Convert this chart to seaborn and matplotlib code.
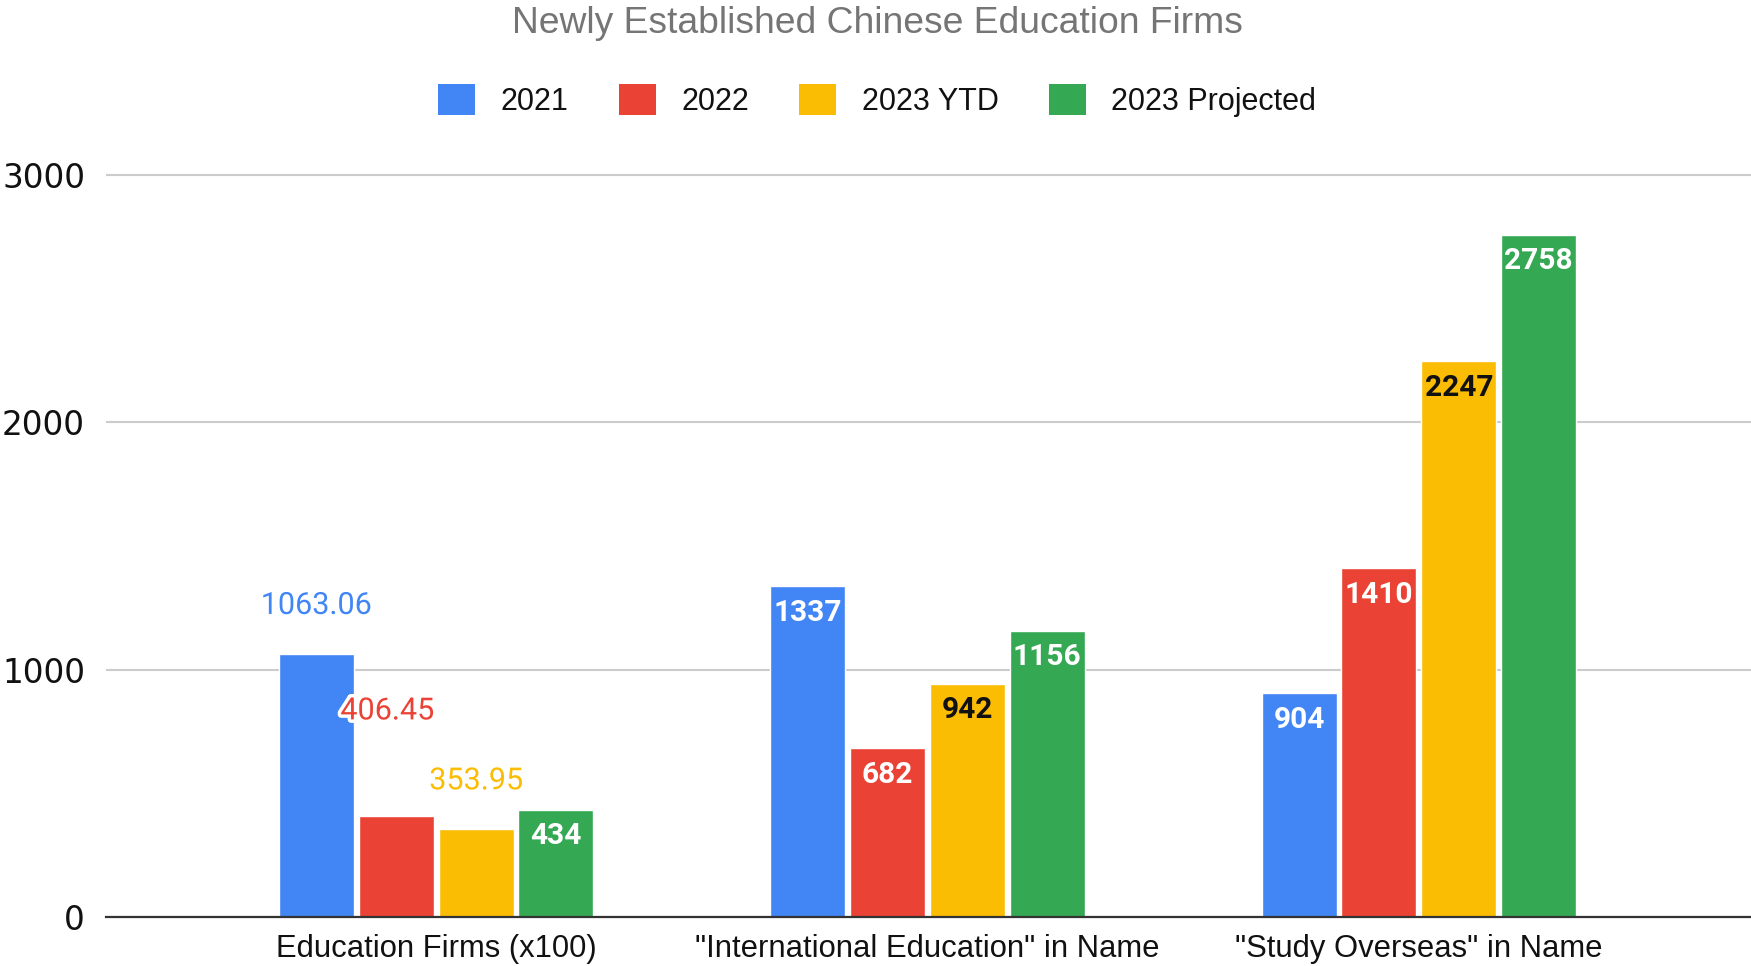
import matplotlib
matplotlib.use("Agg")
import matplotlib.pyplot as plt
import matplotlib.patheffects as pe
from matplotlib.patches import Patch, FancyBboxPatch
import seaborn as sns
import pandas as pd

categories = ["Education Firms (x100)", "\"International Education\" in Name", "\"Study Overseas\" in Name"]
series_names = ["2021", "2022", "2023 YTD", "2023 Projected"]
v2021 = [1063.06, 1337, 904]
v2022 = [406.45, 682, 1410]
v2023_ytd = [353.95, 942, 2247]
v2023_proj = [434, 1156, 2758]
label_text = [["1063.06", "1337", "904"], ["406.45", "682", "1410"],
              ["353.95", "942", "2247"], ["434", "1156", "2758"]]
colors = ["#4285F4", "#EA4335", "#FBBC04", "#34A853"]
y_ticks = [0, 1000, 2000, 3000]
title = "Newly Established Chinese Education Firms"

rows = []
for name, vals in zip(series_names, [v2021, v2022, v2023_ytd, v2023_proj]):
    for c, v in zip(categories, vals):
        rows.append({"category": c, "series": name, "value": v})
df = pd.DataFrame(rows)

sns.set_theme(style="white")
plt.rcParams["font.family"] = ["Liberation Sans", "DejaVu Sans"]

fig = plt.figure(figsize=(17.51, 9.66), dpi=100)
ax = fig.add_axes([0.0605, 0.0507, 0.9395, 0.781])

sns.barplot(data=df, x="category", y="value", hue="series", order=categories,
            hue_order=series_names, palette=colors, width=0.65, gap=0.06,
            saturation=1, errorbar=None, legend=False, ax=ax, zorder=3)

ax.set_ylim(0, 3050)
ax.set_xlim(-0.672, 2.676)
ax.set_yticks(y_ticks)
ax.set_yticklabels([str(t) for t in y_ticks], fontfamily="DejaVu Sans", fontsize=23.5, color="#111111")
ax.tick_params(axis="y", length=0, pad=15)
ax.tick_params(axis="x", length=0, pad=12, labelsize=22.3, labelcolor="#111111")
ax.set_xlabel("")
ax.set_ylabel("")
ax.yaxis.grid(True, color="#cccccc", linewidth=1.5, zorder=0)
ax.set_axisbelow(True)
for s in ["left", "right", "top"]:
    ax.spines[s].set_visible(False)
ax.spines["bottom"].set_color("#333333")
ax.spines["bottom"].set_linewidth(1.6)
ax.spines["bottom"].set_zorder(5)

# data labels
for si, cont in enumerate(ax.containers):
    for ci, bar in enumerate(cont):
        x = bar.get_x() + bar.get_width() / 2
        h = bar.get_height()
        txt = label_text[si][ci]
        if ci == 0 and si < 3:
            dy = {0: 35, 1: 76, 2: 35}[si]
            dx = {0: 0, 1: -6.5, 2: 0}[si]
            t = ax.annotate(txt, (x, h), xytext=(dx, dy), textcoords="offset points",
                            ha="center", va="center", fontsize=22, color=colors[si],
                            fontfamily="Roboto", zorder=6)
            t.set_path_effects([pe.withStroke(linewidth=5, foreground="white")])
        else:
            col = "#111111" if si == 2 else "white"
            ax.annotate(txt, (x, h), xytext=(0, -19), textcoords="offset points",
                        ha="center", va="center", fontsize=21.5, color=col,
                        fontfamily="Roboto", fontweight="bold", zorder=6)

fig.suptitle(title, x=0.501, y=0.976, va="center", fontsize=26.8, color="#757575")

handles = [Patch(facecolor=c, edgecolor="none", label=n) for c, n in zip(colors, series_names)]
fig.legend(handles=handles, loc="center", bbox_to_anchor=(0.501, 0.896), ncol=4,
           frameon=False, fontsize=22, handlelength=1.2, handleheight=1.2,
           handletextpad=0.84, columnspacing=1.65, labelcolor="#111111")

fig.savefig("out.png", dpi=100)
